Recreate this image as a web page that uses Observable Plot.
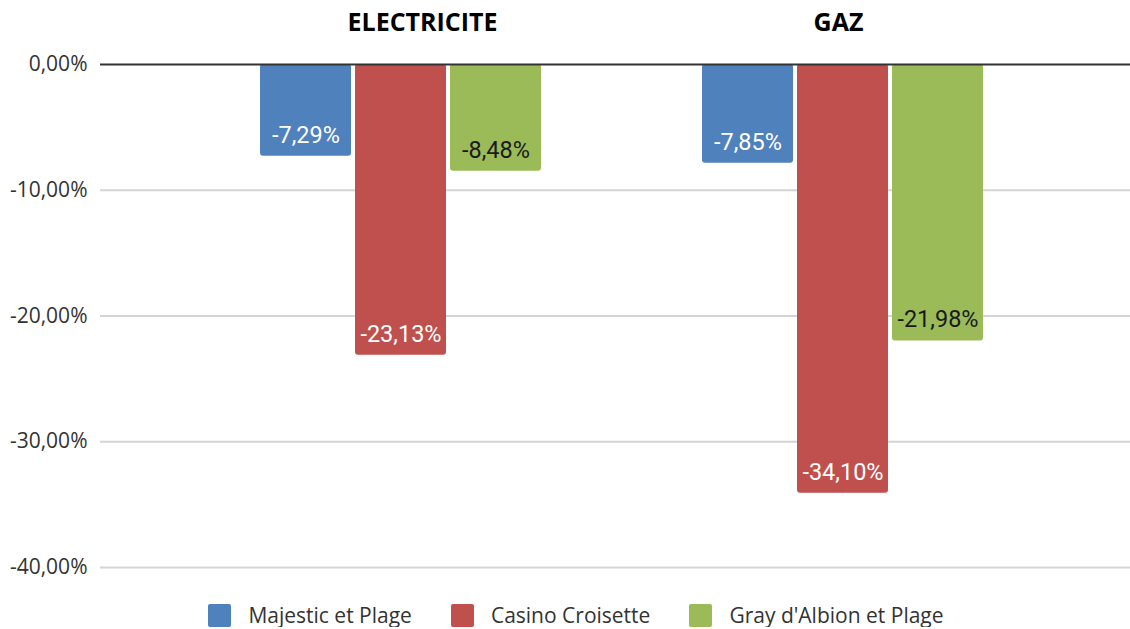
<!DOCTYPE html>
<html>
<head>
<meta charset="utf-8">
<script src="https://cdn.jsdelivr.net/npm/d3@7"></script>
<script src="https://cdn.jsdelivr.net/npm/@observablehq/plot@0.6"></script>
<style>
  html, body { margin: 0; padding: 0; background: #fff; overflow: hidden; }
  #chart svg { display: block; }
  .legend { display: flex; justify-content: center; align-items: center; gap: 39px; margin-top: 14px; padding-left: 22px;
    font-family: "Open Sans", sans-serif; font-size: 21px; line-height: 23px; height: 23px; color: #333; }
  .legend .item { display: flex; align-items: center; gap: 17px; }
  .legend .sw { width: 23px; height: 23px; border-radius: 2px; }
</style>
</head>
<body>
<div id="chart"></div>
<script>
const categories = ["ELECTRICITE", "GAZ"];
const series = ["Majestic et Plage", "Casino Croisette", "Gray d'Albion et Plage"];
const electricite = [-7.29, -23.13, -8.48];
const gaz = [-7.85, -34.10, -21.98];
const yTicks = [0, -10, -20, -30, -40];
const colors = ["#4F81BD", "#C0504D", "#9BBB59"];
const labelColors = ["#ffffff", "#ffffff", "#1a1a1a"];

const values = [electricite, gaz];
const data = [];
categories.forEach((c, ci) => series.forEach((s, si) => data.push({cat: c, series: s, value: values[ci][si], si})));
const fmt = v => v.toFixed(2).replace(".", ",") + "%";
const gridTicks = yTicks.filter(d => d !== 0);

const extL = -79, extR = -67; // extend horizontal rules beyond the facet bands to the plot edges

const plot = Plot.plot({
  width: 1130,
  height: 590,
  marginTop: 64,
  marginBottom: 23,
  marginLeft: 178,
  marginRight: 67,
  fx: {domain: categories, padding: 0, axis: null},
  x: {domain: series, paddingInner: 0.047, paddingOuter: 0.826, axis: null},
  y: {domain: [-40, 0], axis: null},
  color: {domain: series, range: colors},
  style: {fontFamily: "Open Sans, sans-serif"},
  marks: [
    Plot.ruleY(gridTicks, {y: d => d, fx: () => categories[0], insetLeft: extL, stroke: "#d4d4d4", strokeWidth: 2}),
    Plot.ruleY(gridTicks, {y: d => d, fx: () => categories[1], insetRight: extR, stroke: "#d4d4d4", strokeWidth: 2}),
    Plot.text(yTicks, {y: d => d, fx: () => categories[0], frameAnchor: "left", dx: extL - 13, textAnchor: "end",
      text: d => fmt(d), fontSize: 21, fill: "#333"}),
    Plot.barY(data, {fx: "cat", x: "series", y1: 0, y2: "value", fill: "series", rx: 3}),
    Plot.ruleY([0], {fx: () => categories[0], insetLeft: extL, stroke: "#333", strokeWidth: 2}),
    Plot.ruleY([0], {fx: () => categories[1], insetRight: extR, stroke: "#333", strokeWidth: 2}),
    Plot.text(data, {fx: "cat", x: "series", y: "value", dy: -21, text: d => fmt(d.value),
      fill: d => labelColors[d.si], fontSize: 23.5, fontFamily: "Roboto, sans-serif"}),
    Plot.text([categories[0]], {fx: d => d, frameAnchor: "top", dy: -42, dx: 22, text: d => d,
      fontWeight: "bold", fontSize: 25, fill: "#000", lineAnchor: "middle"}),
    Plot.text([categories[1]], {fx: d => d, frameAnchor: "top", dy: -42, dx: -4, text: d => d,
      fontWeight: "bold", fontSize: 25, fill: "#000", lineAnchor: "middle"})
  ]
});
document.getElementById("chart").appendChild(plot);

const legend = document.createElement("div");
legend.className = "legend";
series.forEach((s, i) => {
  const item = document.createElement("div");
  item.className = "item";
  const sw = document.createElement("div");
  sw.className = "sw";
  sw.style.background = colors[i];
  const lab = document.createElement("span");
  lab.textContent = s;
  item.appendChild(sw);
  item.appendChild(lab);
  legend.appendChild(item);
});
document.getElementById("chart").appendChild(legend);
</script>
</body>
</html>
